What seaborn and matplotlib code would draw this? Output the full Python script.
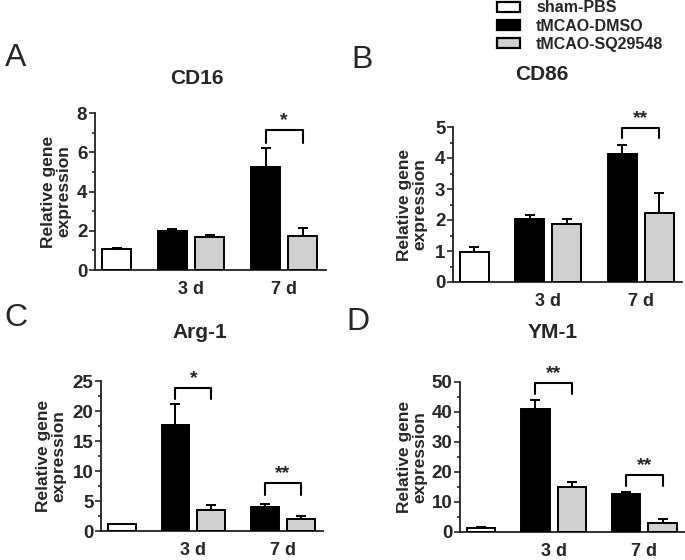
import numpy as np
import pandas as pd
import matplotlib
matplotlib.use("Agg")
import matplotlib.pyplot as plt
from matplotlib.patches import Patch
import seaborn as sns

groups = ["sham-PBS", "tMCAO-DMSO", "tMCAO-SQ29548", "tMCAO-DMSO", "tMCAO-SQ29548"]
positions = [0, 1.5, 2.5, 4.0, 5.0]
day_labels = ["3 d", "7 d"]
day_pos = [2.0, 4.5]
colors = {"sham-PBS": "white", "tMCAO-DMSO": "black", "tMCAO-SQ29548": "#d0d0d0"}

titles = ["CD16", "CD86", "Arg-1", "YM-1"]
letters = ["A", "B", "C", "D"]

cd16_mean = [1.07, 1.99, 1.68, 5.25, 1.73]
cd16_err = [0.05, 0.10, 0.12, 0.97, 0.41]
cd86_mean = [0.97, 2.03, 1.87, 4.13, 2.23]
cd86_err = [0.16, 0.13, 0.16, 0.29, 0.64]
arg1_mean = [1.1, 17.7, 3.5, 4.0, 2.0]
arg1_err = [0.12, 3.4, 0.8, 0.5, 0.5]
ym1_mean = [1.3, 41.0, 15.0, 12.7, 3.0]
ym1_err = [0.3, 3.0, 1.7, 0.7, 1.3]

# y axis: top, major step
ytop = [8, 5, 25, 50]
ystep = [2, 1, 5, 10]

# significance brackets: (left bar idx, right bar idx, top, leg bottom, label)
brackets = [
    [(3, 4, 7.14, 6.48, "*")],
    [(3, 4, 4.97, 4.65, "**")],
    [(1, 2, 23.8, 22.0, "*"), (3, 4, 8.0, 6.0, "**")],
    [(1, 2, 49.7, 46.0, "**"), (3, 4, 19.0, 15.3, "**")],
]

means = [cd16_mean, cd86_mean, arg1_mean, ym1_mean]
errs = [cd16_err, cd86_err, arg1_err, ym1_err]

sns.set_style("ticks")
plt.rcParams["font.family"] = ["Liberation Sans", "DejaVu Sans"]
plt.rcParams["font.weight"] = "bold"

W, H = 685, 560
fig = plt.figure(figsize=(6.85, 5.6), dpi=100)

# pixel boxes: left, right, bottom, top(of ytop)
boxes = [(95, 326, 270, 113), (453, 682, 282, 127), (101, 323, 531, 381), (460, 685, 532, 382)]
ylab_px = [71, 427, 66, 427]
title_px = [(197, 78), (542, 75), (200, 332), (553, 333)]
letter_px = [(16, 58), (362, 60), (16, 318), (358, 322)]

for i in range(4):
    l, r, b, t = boxes[i]
    ax = fig.add_axes([l / W, 1 - b / H, (r - l) / W, (b - t) / H])
    df = pd.DataFrame({"pos": positions, "value": means[i], "group": groups})
    sns.barplot(data=df, x="pos", y="value", hue="group", palette=colors,
                hue_order=list(colors.keys()), native_scale=True, dodge=False,
                errorbar=None, width=0.78, edgecolor="black", linewidth=1.4,
                legend=False, ax=ax, zorder=3)
    ax.errorbar(positions, means[i], yerr=[np.zeros(5), errs[i]], fmt="none",
                ecolor="black", elinewidth=1.4, capsize=3.6, capthick=1.4, zorder=2)
    for (a, c, top, leg, lab) in brackets[i]:
        xa, xc = positions[a], positions[c]
        ax.plot([xa, xa, xc, xc], [leg, top, top, leg], color="black", lw=1.5, clip_on=False)
        ax.annotate(lab, ((xa + xc) / 2, top), xytext=(0, 0.5), textcoords="offset points",
                    ha="center", va="bottom", fontsize=14, fontweight="bold")
    ax.set_xlim(-0.58, 5.62)
    ax.set_ylim(0, ytop[i])
    ax.set_yticks(np.arange(0, ytop[i] + 0.01, ystep[i]))
    ax.set_yticks(np.arange(ystep[i] / 2, ytop[i], ystep[i]), minor=True)
    ax.set_xticks(day_pos)
    ax.set_xticklabels(day_labels)
    ax.tick_params(axis="x", length=0, pad=8, labelsize=13)
    ax.tick_params(axis="y", which="major", length=4, width=1.2, pad=1.5, labelsize=13.5)
    ax.tick_params(axis="y", which="minor", length=2.5, width=1.2)
    for lbl in ax.get_xticklabels() + ax.get_yticklabels():
        lbl.set_fontweight("bold")
    sns.despine(ax=ax)
    for s in ["left", "bottom"]:
        ax.spines[s].set_linewidth(1.3)
        ax.spines[s].set_color("#222222")
    ax.set_xlabel("")
    ax.set_ylabel("Relative gene\nexpression", fontsize=12.5, fontweight="bold", linespacing=1.0)
    ax.yaxis.set_label_coords((ylab_px[i] - l) / (r - l), 0.5)
    fig.text(title_px[i][0] / W, 1 - title_px[i][1] / H, titles[i], ha="center", va="center",
             fontsize=15, fontweight="bold")
    fig.text(letter_px[i][0] / W, 1 - letter_px[i][1] / H, letters[i], ha="center", va="center",
             fontsize=23, fontweight="normal")

handles = [Patch(facecolor=colors[g], edgecolor="black", linewidth=1.6) for g in colors]
fig.legend(handles, list(colors.keys()), loc="upper left", bbox_to_anchor=(497 / W, 1 - 0.5 / H),
           frameon=False, borderpad=0, borderaxespad=0, handlelength=1.45, handleheight=0.55,
           handletextpad=1.0, labelspacing=0.2, prop={"weight": "bold", "size": 11.5})

fig.savefig("out.png", dpi=100, facecolor="white")
